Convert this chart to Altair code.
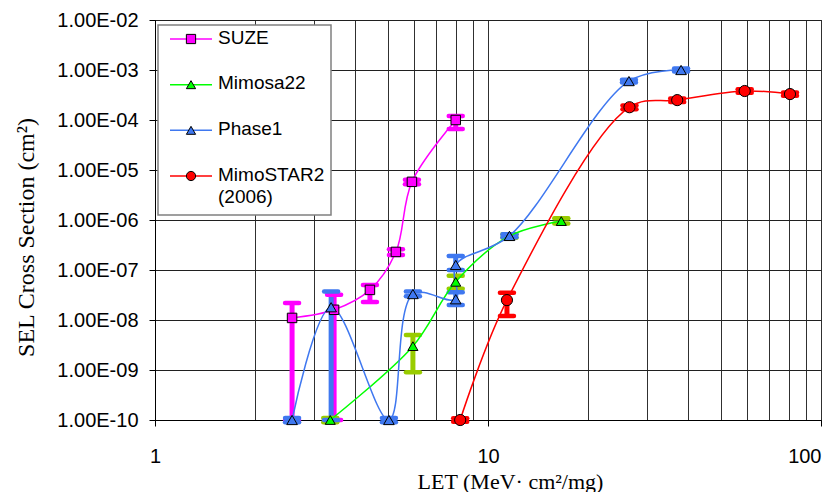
import altair as alt
import pandas as pd

series_names = ["SUZE", "Mimosa22", "Phase1", "MimoSTAR2 (2006)"]
legend_texts = ["SUZE", "Mimosa22", "Phase1", "MimoSTAR2\n(2006)"]
legend_rows = [0, 1, 2, 3]
line_colors = ["#FF00FF", "#00FF00", "#3F78F0", "#FF0000"]
err_colors = ["#FF00FF", "#99CC00", "#3F78F0", "#FF0000"]
marker_fill = ["#FF00FF", "#00FF00", "#3F78F0", "#FF0000"]
marker_shapes = ["square", "triangle-up", "triangle-up", "circle"]
marker_sizes = [90, 125, 125, 210]

x_ticks = [1, 2, 3, 4, 5, 6, 7, 8, 9, 10, 20, 30, 40, 50, 60, 70, 80, 90, 100]
y_ticks = [1e-10, 1e-9, 1e-8, 1e-7, 1e-6, 1e-5, 1e-4, 1e-3, 1e-2]

# SUZE
suze_let = [2.58, 3.45, 4.42, 5.29, 5.91, 8.0]
suze_xs = [1.1e-8, 1.6e-8, 4.0e-8, 2.3e-7, 5.8e-6, 1.0e-4]
suze_lo = [1.0e-10, 1.0e-10, 2.3e-8, 2.0e-7, 5.2e-6, 6.6e-5]
suze_hi = [2.2e-8, 3.2e-8, 5.0e-8, 2.6e-7, 6.4e-6, 1.2e-4]

# Mimosa22
mim_let = [3.36, 5.95, 8.0, 11.6, 16.6]
mim_xs = [1.0e-10, 3.0e-9, 5.8e-8, 4.8e-7, 9.5e-7]
mim_lo = [0.9e-10, 9.0e-10, 4.2e-8, 4.4e-7, 8.5e-7]
mim_hi = [1.1e-10, 5.0e-9, 7.7e-8, 5.2e-7, 1.08e-6]

# Phase1
ph_let = [2.58, 3.38, 5.04, 5.95, 8.0, 8.0, 11.6, 26.5, 38.0]
ph_xs = [1.0e-10, 1.8e-8, 1.0e-10, 3.3e-8, 2.6e-8, 1.26e-7, 4.8e-7, 6.0e-4, 1.0e-3]
ph_lo = [0.9e-10, 1.0e-10, 0.9e-10, 3.0e-8, 2.0e-8, 1.0e-7, 4.5e-7, 5.6e-4, 0.93e-3]
ph_hi = [1.1e-10, 3.7e-8, 1.1e-10, 3.7e-8, 3.6e-8, 1.9e-7, 5.2e-7, 6.4e-4, 1.07e-3]

# MimoSTAR2 (2006)
red_let = [8.25, 11.4, 26.6, 37.0, 59.0, 80.7]
red_xs = [1.0e-10, 2.5e-8, 1.8e-4, 2.5e-4, 3.8e-4, 3.3e-4]
red_lo = [0.92e-10, 1.2e-8, 1.65e-4, 2.3e-4, 3.5e-4, 3.05e-4]
red_hi = [1.08e-10, 3.5e-8, 1.95e-4, 2.7e-4, 4.1e-4, 3.55e-4]

rows = []
for name, lets, xs, lo, hi in [
    (series_names[0], suze_let, suze_xs, suze_lo, suze_hi),
    (series_names[1], mim_let, mim_xs, mim_lo, mim_hi),
    (series_names[2], ph_let, ph_xs, ph_lo, ph_hi),
    (series_names[3], red_let, red_xs, red_lo, red_hi),
]:
    for i in range(len(lets)):
        rows.append(dict(series=name, let=lets[i], xs=xs[i], lo=lo[i], hi=hi[i], idx=i))
df = pd.DataFrame(rows)
leg_df = pd.DataFrame({"series": series_names, "text": legend_texts, "row": legend_rows})

xscale = alt.Scale(type="log", domain=[1, 100])
yscale = alt.Scale(type="log", domain=[1e-10, 1e-2])

decade_test = "datum.value == 1 || datum.value == 10 || datum.value == 100"
x_axis = alt.Axis(
    values=x_ticks,
    labelExpr="(" + decade_test + ") ? format(datum.value, 'd') : ''",
    labelFont="Liberation Sans", labelFontSize=20, labelColor="black",
    labelPadding=20, labelOverlap=False, labelFlush=False,
    labelAlign={"condition": {"test": "datum.value == 100", "value": "right"}, "value": "center"},
    tickSize=6, tickColor="black",
    tickOpacity={"condition": {"test": decade_test, "value": 1}, "value": 0},
    domainColor="black", domainWidth=1,
    grid=True, gridColor="#303030", gridWidth=1,
    title="LET (MeV\u00b7 cm\u00b2/mg)", titleFont="Liberation Serif",
    titleFontSize=22, titleFontWeight="normal", titleColor="black",
    titleX=355, titleY=61, titleBaseline="middle", titleAlign="center",
)
y_axis = alt.Axis(
    values=y_ticks,
    labelExpr="'1.00E-' + (round(-log(datum.value)/LN10) < 10 ? '0' : '') + round(-log(datum.value)/LN10)",
    labelFont="Liberation Sans", labelFontSize=20, labelColor="black",
    labelPadding=11, labelOverlap=False, labelFlush=False,
    tickSize=6, tickColor="black",
    domainColor="black", domainWidth=1,
    grid=True, gridColor="#202020", gridWidth=1,
    title="SEL Cross Section (cm\u00b2)", titleFont="Liberation Serif",
    titleFontSize=24, titleFontWeight="normal", titleColor="black",
    titleX=-129, titleY=217, titleBaseline="middle", titleAlign="center",
)

X = alt.X("let:Q", scale=xscale, axis=x_axis, title="LET (MeV\u00b7 cm\u00b2/mg)")
YT = "SEL Cross Section (cm\u00b2)"

color_enc = alt.Color("series:N", scale=alt.Scale(domain=series_names, range=line_colors), legend=None)
fill_enc = alt.Fill("series:N", scale=alt.Scale(domain=series_names, range=marker_fill), legend=None)
shape_enc = alt.Shape("series:N", scale=alt.Scale(domain=series_names, range=marker_shapes), legend=None)
err_stroke = alt.Stroke("series:N", scale=alt.Scale(domain=series_names, range=err_colors), legend=None)

base = alt.Chart(df)

bars = base.mark_rule(strokeWidth=5).encode(
    x=X,
    y=alt.Y("lo:Q", scale=yscale, axis=y_axis, title=YT),
    y2="hi:Q",
    stroke=err_stroke,
)

caps = base.transform_fold(["lo", "hi"], as_=["k", "v"]).mark_point(
    shape="stroke", size=196, strokeWidth=4.5, strokeCap="round", filled=False, opacity=1
).encode(
    x=X,
    y=alt.Y("v:Q", scale=yscale, axis=y_axis, title=YT),
    stroke=err_stroke,
)

lines = base.mark_line(interpolate="catmull-rom", strokeWidth=1.5).encode(
    x=X,
    y=alt.Y("xs:Q", scale=yscale, axis=y_axis, title=YT),
    color=color_enc,
    order=alt.Order("idx:Q"),
)

points = base.mark_point(filled=True, stroke="black", strokeWidth=1, opacity=1).encode(
    x=X,
    y=alt.Y("xs:Q", scale=yscale, axis=y_axis, title=YT),
    fill=fill_enc,
    shape=shape_enc,
    size=alt.Size("series:N", scale=alt.Scale(domain=series_names, range=marker_sizes), legend=None),
)

data_layers = alt.layer(bars, caps, lines, points)

# ---- legend (drawn inside the plot, top-left) ----
leg_y = alt.Y("row:Q", scale=alt.Scale(domain=[0, 3], range=[19, 156]), axis=None, title=None)

leg_box = alt.Chart(pd.DataFrame({"k": [0]})).mark_rect(
    fill="white", stroke="#808080", strokeWidth=1.5
).encode(x=alt.value(3), x2=alt.value(176), y=alt.value(5), y2=alt.value(195))

leg_base = alt.Chart(leg_df)
leg_lines = leg_base.mark_rule(strokeWidth=1.5).encode(
    x=alt.value(15), x2=alt.value(57), y=leg_y, color=color_enc
)
leg_pts = leg_base.mark_point(filled=True, stroke="black", strokeWidth=1, opacity=1, size=85).encode(
    x=alt.value(36), y=leg_y, fill=fill_enc, shape=shape_enc
)
leg_text = leg_base.mark_text(
    align="left", baseline="top", dy=-10.5, font="Liberation Sans", fontSize=19,
    lineBreak="\n", lineHeight=22, color="black"
).encode(x=alt.value(63), y=leg_y, text="text:N")

legend_layers = alt.layer(leg_box, leg_lines, leg_pts, leg_text)

chart = alt.layer(data_layers, legend_layers).resolve_scale(y="independent").properties(
    width=666, height=400,
    autosize=alt.AutoSizeParams(type="none"),
    padding={"left": 147, "top": 12, "right": 11, "bottom": 72},
    background="white",
).configure_view(stroke="black", strokeWidth=1)

chart.save("out.html", embed_options={"renderer": "svg", "actions": False})
